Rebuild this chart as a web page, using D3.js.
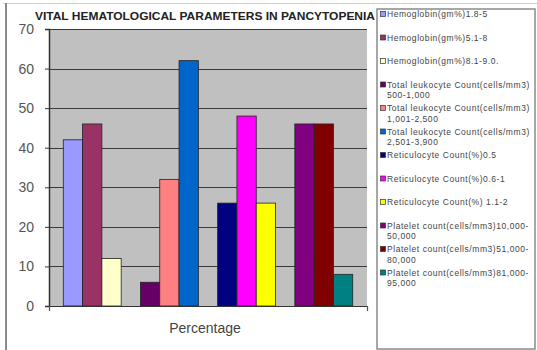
<!DOCTYPE html>
<html>
<head>
<meta charset="utf-8">
<script src="https://cdn.jsdelivr.net/npm/d3@7"></script>
<style>
  html, body { margin: 0; padding: 0; background: #fff; }
  svg { display: block; font-family: "Liberation Sans", Arial, sans-serif; }
</style>
</head>
<body>
<svg id="chart" width="537" height="350"></svg>
<script>
// ---- data ----
const title = "VITAL HEMATOLOGICAL PARAMETERS IN PANCYTOPENIA";
const xAxisTitle = "Percentage";
const groups = ["Hemoglobin", "Total leukocyte Count", "Reticulocyte Count", "Platelet count"];
const seriesLabels = [
  ["Hemoglobin(gm%)1.8-5"],
  ["Hemoglobin(gm%)5.1-8"],
  ["Hemoglobin(gm%)8.1-9.0."],
  ["Total leukocyte Count(cells/mm3)", "500-1,000"],
  ["Total leukocyte Count(cells/mm3)", "1,001-2,500"],
  ["Total leukocyte Count(cells/mm3)", "2,501-3,900"],
  ["Reticulocyte Count(%)0.5"],
  ["Reticulocyte Count(%)0.6-1"],
  ["Reticulocyte Count(%) 1.1-2"],
  ["Platelet  count(cells/mm3)10,000-", "50,000"],
  ["Platelet  count(cells/mm3)51,000-", "80,000"],
  ["Platelet  count(cells/mm3)81,000-", "95,000"]
];
const seriesGroup = [0, 0, 0, 1, 1, 1, 2, 2, 2, 3, 3, 3];
const seriesIndexInGroup = [0, 1, 2, 0, 1, 2, 0, 1, 2, 0, 1, 2];
const values = [42, 46, 12, 6, 32, 62, 26, 48, 26, 46, 46, 8];
const colors = ["#9999FF", "#993366", "#FFFFCC", "#660066", "#FF8080", "#0066CC",
                "#000080", "#FF00FF", "#FFFF00", "#800080", "#800000", "#008080"];
const yTicks = [0, 10, 20, 30, 40, 50, 60, 70];

// ---- layout ----
const svg = d3.select("#chart");
const plot = { left: 49, right: 367, top: 29, bottom: 306 };

// outer chart frame
svg.append("line").attr("x1", 3).attr("x2", 537).attr("y1", 3.5).attr("y2", 3.5)
  .attr("stroke", "#d0d0d0").attr("stroke-width", 1);
svg.append("line").attr("x1", 6).attr("x2", 6).attr("y1", 3).attr("y2", 350)
  .attr("stroke", "#8a8a8a").attr("stroke-width", 2);

const y = d3.scaleLinear().domain([0, 70]).range([plot.bottom, plot.top]);
const xGroup = d3.scaleBand().domain(groups).range([plot.left, plot.right])
  .paddingInner(0.25).paddingOuter(0.185);
const xInner = d3.scaleBand().domain([0, 1, 2]).range([0, xGroup.bandwidth()]);

// plot background
svg.append("rect")
  .attr("x", plot.left).attr("y", y(70))
  .attr("width", plot.right - plot.left).attr("height", y(0) - y(70))
  .attr("fill", "#C0C0C0");

// gridlines
svg.append("g").selectAll("line").data(yTicks.filter(d => d > 0)).join("line")
  .attr("x1", plot.left).attr("x2", plot.right)
  .attr("y1", d => Math.round(y(d)) + 0.5).attr("y2", d => Math.round(y(d)) + 0.5)
  .attr("stroke", "#3a3a3a").attr("stroke-width", 1.2);

// bars
svg.append("g").selectAll("rect").data(values).join("rect")
  .attr("x", (d, i) => xGroup(groups[seriesGroup[i]]) + xInner(seriesIndexInGroup[i]))
  .attr("y", d => y(d))
  .attr("width", xInner.bandwidth())
  .attr("height", d => y(0) - y(d))
  .attr("fill", (d, i) => colors[i])
  .attr("stroke", "#222").attr("stroke-width", 0.8);

// y axis
const yAxis = svg.append("g").attr("transform", `translate(${plot.left},0)`)
  .call(d3.axisLeft(y).tickValues(yTicks).tickSize(4).tickPadding(11).tickFormat(d3.format("d")));
yAxis.select(".domain").attr("stroke", "#333").attr("stroke-width", 1.5);
yAxis.selectAll(".tick line").attr("stroke", "#333");
yAxis.selectAll(".tick text").attr("font-size", 14).attr("fill", "#555")
  .attr("font-family", "'Liberation Sans', Arial, sans-serif");

// x axis line with end ticks
const xAxis = svg.append("g").attr("transform", `translate(0,${plot.bottom})`)
  .call(d3.axisBottom(d3.scaleLinear().domain([0, 1]).range([plot.left, plot.right]))
    .tickValues([0, 1]).tickSize(5).tickFormat(""));
xAxis.select(".domain").attr("stroke", "#333").attr("stroke-width", 1.2);
xAxis.selectAll(".tick line").attr("stroke", "#555");

// x axis title
svg.append("text").attr("x", 205).attr("y", 333).attr("text-anchor", "middle")
  .attr("font-size", 14).attr("fill", "#444").text(xAxisTitle);

// title
svg.append("text").attr("x", 35).attr("y", 20)
  .attr("font-size", 11).attr("font-weight", "bold").attr("fill", "#222")
  .attr("textLength", 340).attr("lengthAdjust", "spacingAndGlyphs")
  .text(title);

// legend
const lg = svg.append("g");
lg.append("rect").attr("x", 377).attr("y", 9).attr("width", 158).attr("height", 340)
  .attr("fill", "#fff").attr("stroke", "#8a8a8a").attr("stroke-width", 1.5);
const legendStep = 23.5;
const entries = lg.selectAll("g.entry").data(seriesLabels).join("g")
  .attr("class", "entry")
  .attr("transform", (d, i) => `translate(380,${17 + i * legendStep})`);
entries.append("rect").attr("x", 0.5).attr("y", -5.5).attr("width", 5).attr("height", 5)
  .attr("fill", (d, i) => colors[i]).attr("stroke", "#333").attr("stroke-width", 0.7);
entries.append("text").attr("font-size", 8.5).attr("fill", "#444")
  .attr("letter-spacing", 0.55)
  .selectAll("tspan").data(d => d).join("tspan")
  .attr("x", 7).attr("dy", (d, j) => j === 0 ? 0 : 10.5)
  .text(d => d);
</script>
</body>
</html>
